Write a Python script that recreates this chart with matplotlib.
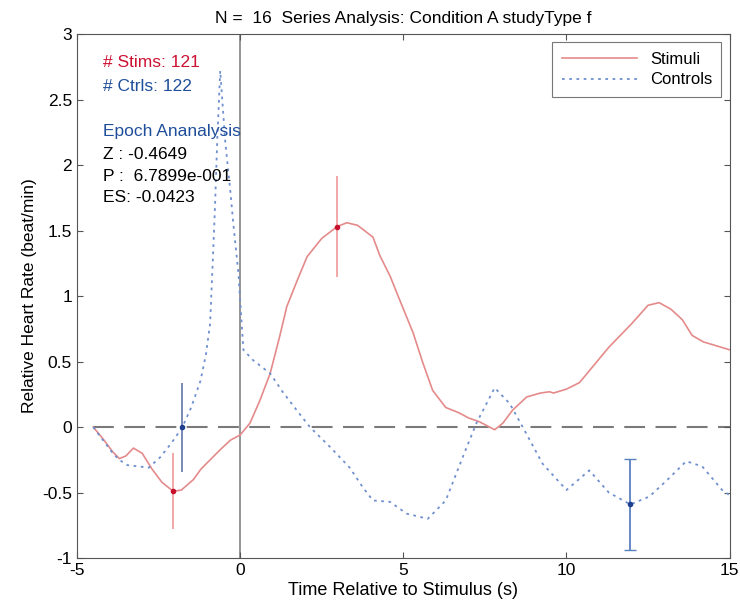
import matplotlib
matplotlib.use("Agg")
import matplotlib.pyplot as plt

plt.rcParams['font.family'] = ['Liberation Sans', 'DejaVu Sans']
plt.rcParams['axes.unicode_minus'] = False

# данные
stim_t = [-4.5, -4.2, -3.9, -3.7, -3.5, -3.27, -3.0, -2.7, -2.4, -2.05, -1.8, -1.43,
          -1.2, -0.92, -0.6, -0.3, 0.0, 0.3, 0.6, 0.92, 1.2, 1.43, 1.75, 2.05, 2.5,
          2.97, 3.27, 3.6, 4.07, 4.28, 4.6, 4.89, 5.3, 5.6, 5.9, 6.3, 6.7, 7.0, 7.34,
          7.8, 8.05, 8.35, 8.78, 9.2, 9.48, 9.6, 10.0, 10.4, 10.8, 11.3, 12.0, 12.5,
          12.84, 13.2, 13.55, 13.85, 14.2, 14.47, 15.0]
stim_v = [0.0, -0.09, -0.19, -0.24, -0.22, -0.16, -0.2, -0.32, -0.42, -0.49, -0.48, -0.40,
          -0.32, -0.25, -0.17, -0.10, -0.06, 0.03, 0.2, 0.41, 0.68, 0.92, 1.12, 1.30, 1.44,
          1.53, 1.56, 1.54, 1.45, 1.31, 1.15, 0.97, 0.72, 0.49, 0.28, 0.15, 0.11, 0.07, 0.04,
          -0.02, 0.03, 0.13, 0.23, 0.26, 0.27, 0.26, 0.29, 0.34, 0.46, 0.61, 0.79, 0.93,
          0.95, 0.90, 0.82, 0.70, 0.65, 0.63, 0.59]

ctrl_t = [-4.5, -4.2, -3.9, -3.7, -3.46, -3.1, -2.8, -2.45, -2.1, -1.77, -1.5, -1.22,
          -1.05, -0.92, -0.85, -0.77, -0.7, -0.61, -0.46, -0.3, -0.2, -0.05, 0.0, 0.1,
          0.4, 0.92, 1.3, 1.73, 2.14, 2.75, 3.36, 3.76, 4.07, 4.59, 5.1, 5.75, 6.3, 6.82,
          7.24, 7.8, 8.26, 8.66, 9.27, 10.0, 10.7, 11.3, 11.96, 12.54, 13.06, 13.67,
          14.16, 14.77, 15.0]
ctrl_v = [0.0, -0.1, -0.2, -0.25, -0.29, -0.30, -0.31, -0.23, -0.12, 0.0, 0.15, 0.35,
          0.55, 0.79, 1.2, 1.68, 2.2, 2.72, 2.19, 1.8, 1.53, 1.17, 0.97, 0.59,
          0.51, 0.41, 0.27, 0.13, 0.0, -0.15, -0.31, -0.46, -0.56, -0.57, -0.66, -0.70,
          -0.56, -0.23, 0.03, 0.30, 0.18, 0.0, -0.28, -0.48, -0.33, -0.50, -0.59, -0.53,
          -0.41, -0.26, -0.30, -0.48, -0.52]

# точки с ошибками
stim_err_t = [-2.05, 2.97]
stim_err_v = [-0.49, 1.53]
stim_err = [0.29, 0.385]
ctrl_err_t = [-1.77, 11.96]
ctrl_err_v = [0.0, -0.59]
ctrl_err = [0.34, 0.35]

red_line = '#e58a8a'
blue_line = '#6f8fcf'

fig = plt.figure(figsize=(7.4, 6.08), dpi=100, facecolor='white')
ax = fig.add_axes([0.104, 0.082, 0.882, 0.862])

ax.axvline(0, color='#8c8c8c', linewidth=1.3, zorder=1)
ax.hlines(0, stim_t[0], 15, color='#7a7a7a', linewidth=1.5,
          linestyles=(0, (10, 5)), zorder=1)

ax.plot(stim_t, stim_v, color=red_line, linewidth=1.2, label='Stimuli', zorder=3)
ax.plot(ctrl_t, ctrl_v, color=blue_line, linewidth=1.3, linestyle=(0, (1.5, 2.5)),
        label='Controls', zorder=3)

ax.errorbar(stim_err_t, stim_err_v, yerr=stim_err, fmt='o', color='#c8102e', ms=3,
            ecolor='#f0a0a0', elinewidth=1.3, capsize=0, zorder=4)
ax.errorbar(ctrl_err_t[:1], ctrl_err_v[:1], yerr=ctrl_err[:1], fmt='o', color='#1f3f8f',
            ms=3, ecolor='#7080b0', elinewidth=1.3, capsize=0, zorder=4)
ax.errorbar(ctrl_err_t[1:], ctrl_err_v[1:], yerr=ctrl_err[1:], fmt='o', color='#1f3f8f',
            ms=3, ecolor='#5a80c0', elinewidth=1.3, capsize=4, zorder=4)

ax.set_xlim(-5, 15)
ax.set_ylim(-1, 3)
ax.set_xticks([-5, 0, 5, 10, 15])
ax.set_yticks([-1, -0.5, 0, 0.5, 1, 1.5, 2, 2.5, 3])
ax.set_yticklabels(['-1', '-0.5', '0', '0.5', '1', '1.5', '2', '2.5', '3'])
ax.tick_params(direction='in', top=True, right=True, labelsize=12.5, length=4,
               color='#555555')
for s in ax.spines.values():
    s.set_color('#555555')

ax.set_xlabel('Time Relative to Stimulus (s)', fontsize=13, labelpad=3)
ax.set_ylabel('Relative Heart Rate (beat/min)', fontsize=12.5, labelpad=4)
ax.set_title('N =  16  Series Analysis: Condition A studyType f', fontsize=12.5, pad=8)

tx = -4.2
fs = 12.5
ax.text(tx, 2.78, '# Stims: 121', color='#cc1133', fontsize=fs, va='center')
ax.text(tx, 2.60, '# Ctrls: 122', color='#1f4e9a', fontsize=fs, va='center')
ax.text(tx, 2.26, 'Epoch Ananalysis', color='#1f4e9a', fontsize=fs, va='center')
ax.text(tx, 2.08, 'Z : -0.4649', color='black', fontsize=fs, va='center')
ax.text(tx, 1.91, 'P :  6.7899e-001', color='black', fontsize=fs, va='center')
ax.text(tx, 1.75, 'ES: -0.0423', color='black', fontsize=fs, va='center')

leg = ax.legend(loc='upper right', fontsize=12, frameon=True, fancybox=False,
                edgecolor='#555555', handlelength=4.5, borderaxespad=0.5,
                borderpad=0.55, labelspacing=0.35)
leg.get_frame().set_linewidth(0.8)

fig.savefig('out.png', dpi=100)
